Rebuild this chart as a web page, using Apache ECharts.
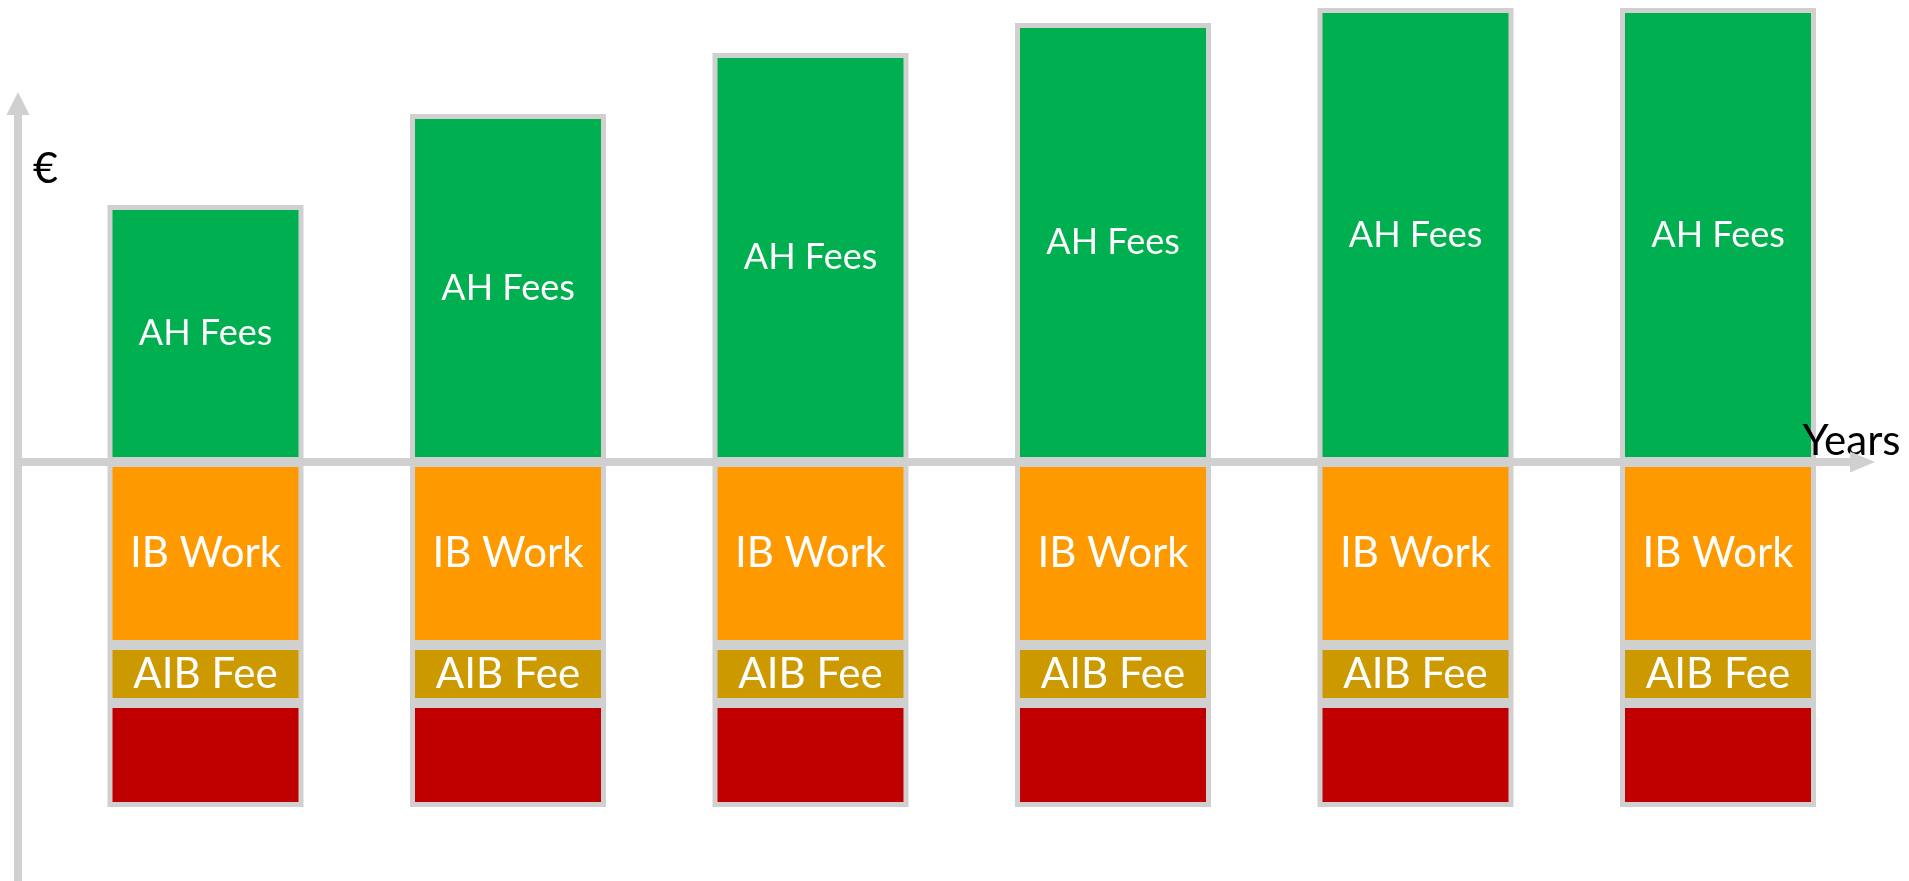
<!DOCTYPE html>
<html>
<head>
<meta charset="utf-8">
<script src="https://cdn.jsdelivr.net/npm/echarts@6/dist/echarts.min.js"></script>
<style>
  html, body { margin: 0; padding: 0; background: #fff; }
  #chart { width: 1909px; height: 881px; }
</style>
</head>
<body>
<div id="chart"></div>
<script>
// values are in arbitrary € units (no tick labels on the axis)
const years = ['Y1', 'Y2', 'Y3', 'Y4', 'Y5', 'Y6'];
const ahFees = [257, 348, 409, 439, 454, 454];
const ibWork = [-183, -183, -183, -183, -183, -183];
const aibFee = [-58, -58, -58, -58, -58, -58];
const otherCost = [-104, -104, -104, -104, -104, -104];

const GREY = '#d0d0d0';
const FONT = 'Lato';

const chart = echarts.init(document.getElementById('chart'));

function segment(name, data, color, fontSize) {
  return {
    name: name,
    type: 'bar',
    stack: 'total',
    xAxisIndex: 0,
    yAxisIndex: 0,
    barWidth: 196,
    clip: false,
    z: 1,
    itemStyle: {
      color: color,
      borderColor: GREY,
      borderWidth: 5
    },
    label: {
      show: fontSize > 0,
      position: 'inside',
      formatter: name,
      color: '#fff',
      fontFamily: FONT,
      fontSize: fontSize
    },
    data: data
  };
}

const options = {
  animation: false,
  title: {
    text: '€',
    left: 28,
    top: 143,
    textStyle: { fontFamily: FONT, fontSize: 43, fontWeight: 'normal', color: '#000' }
  },
  grid: [
    { left: 54.25, right: 39.75, top: 0, bottom: 0 },   // bars
    { left: 18, right: 46.5, top: 103.5, bottom: 0 }    // axis arrows
  ],
  xAxis: [
    { type: 'category', gridIndex: 0, data: years, show: false },
    {
      type: 'value', gridIndex: 1, min: 0, max: 1,
      name: 'Years',
      nameLocation: 'end',
      nameGap: -60,
      nameTextStyle: { fontFamily: FONT, fontSize: 42, color: '#000', verticalAlign: 'bottom', padding: [0, 0, 0, 0] },
      axisLine: {
        show: true,
        symbol: ['none', 'triangle'],
        symbolSize: [21, 25],
        lineStyle: { color: GREY, width: 8 }
      },
      axisTick: { show: false },
      axisLabel: { show: false },
      splitLine: { show: false },
      z: 5
    }
  ],
  yAxis: [
    { type: 'value', gridIndex: 0, min: -419, max: 462, show: false },
    {
      type: 'value', gridIndex: 1, min: -419, max: 358.5,
      axisLine: {
        show: true,
        symbol: ['none', 'triangle'],
        symbolSize: [23, 23],
        lineStyle: { color: GREY, width: 8 }
      },
      axisTick: { show: false },
      axisLabel: { show: false },
      splitLine: { show: false }
    }
  ],
  series: [
    segment('AH Fees', ahFees, '#00b050', 36),
    segment('IB Work', ibWork, '#ff9900', 42),
    segment('AIB Fee', aibFee, '#cc9900', 42),
    segment('Other', otherCost, '#c00000', 0)
  ]
};

chart.setOption(options);
</script>
</body>
</html>
